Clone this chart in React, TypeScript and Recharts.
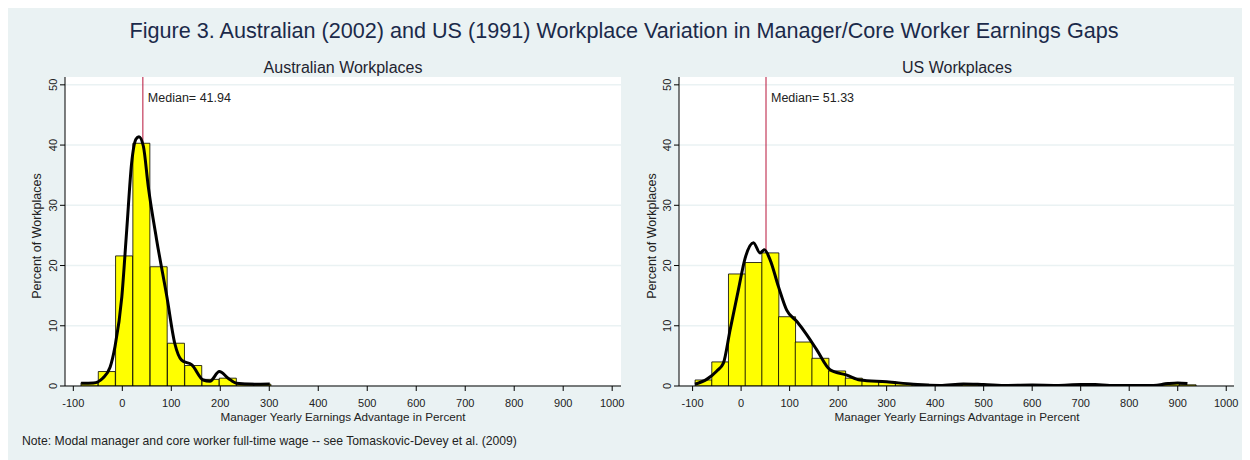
import React from "react";
import { ComposedChart, Bar, Line, XAxis, YAxis, CartesianGrid, ReferenceLine } from "recharts";

const FONT = '"Liberation Sans", Arial, Helvetica, sans-serif';

// shared axis ticks
const xTicks = [-100, 0, 100, 200, 300, 400, 500, 600, 700, 800, 900, 1000];
const yTicks = [0, 10, 20, 30, 40, 50];

// Australian workplaces: histogram bins (mid points) and percent
const ausBinMid = [-66.7, -31.4, 3.9, 39.2, 74.5, 109.8, 145.1, 180.4, 215.7, 251.0, 286.3];
const ausPct = [0.55, 2.4, 21.6, 40.3, 19.8, 7.1, 3.4, 1.1, 1.3, 0.45, 0.3];
// kernel density overlay
const ausDensX = [-84, -59, -40, -25, -15, -1, 9, 19, 28, 34, 43, 53, 70, 91, 107, 121, 142, 165, 179, 198, 216, 233, 267, 301];
const ausDensY = [0.45, 0.5, 1.3, 3.1, 6.5, 14.8, 25.9, 37, 41, 41.4, 39.8, 33.1, 24.3, 14.8, 7.1, 4.3, 3.5, 1.0, 0.8, 2.4, 1.3, 0.45, 0.3, 0.35];
const ausMedian = 41.94;

// US workplaces
const usBinMid = [-77.6, -43.2, -8.8, 25.6, 60.0, 94.4, 128.8, 163.2, 197.6, 232.0, 266.4, 300.8, 335.2, 369.6, 404.0, 438.4, 472.8, 507.2, 541.6, 576.0, 610.4, 644.8, 679.2, 713.6, 748.0, 782.4, 816.8, 851.2, 885.6, 920.0];
const usPct = [1.0, 4.0, 18.6, 20.5, 22.1, 11.5, 7.3, 4.6, 2.5, 1.3, 0.9, 0.65, 0.4, 0.3, 0.2, 0.15, 0.3, 0.25, 0.15, 0.1, 0.15, 0.1, 0.1, 0.25, 0.15, 0.1, 0.1, 0.15, 0.45, 0.2];
const usDensX = [-95, -71, -50, -36.5, -22.7, -5.5, 8.2, 25.4, 39, 48, 60, 77, 94, 115, 135.5, 156, 183.5, 218, 245, 300, 355, 410, 458, 500, 550, 600, 650, 700, 730, 760, 800, 850, 880, 900, 920];
const usDensY = [0.3, 1.1, 2.5, 3.8, 9.3, 16, 21.2, 23.8, 22.1, 22.6, 20.9, 16.5, 12.6, 10.7, 8.5, 6.0, 2.7, 1.8, 1.0, 0.7, 0.3, 0.1, 0.35, 0.25, 0.1, 0.15, 0.1, 0.25, 0.25, 0.1, 0.1, 0.1, 0.4, 0.5, 0.4];
const usMedian = 51.33;

const YTick = (props: any) => {
  const { x, y, payload } = props;
  return (
    <text x={x} y={y} transform={`rotate(-90 ${x} ${y})`} textAnchor="middle" fontSize={11} fill="#222" fontFamily={FONT}>
      {payload.value}
    </text>
  );
};

type PanelProps = {
  binMid: number[];
  pct: number[];
  densX: number[];
  densY: number[];
  median: number;
  domain: [number, number];
  width: number;
  margin: { top: number; right: number; bottom: number; left: number };
};

function Panel({ binMid, pct, densX, densY, median, domain, width, margin }: PanelProps) {
  const bins = binMid.map((m, i) => ({ mid: m, pct: pct[i] }));
  const dens = densX.map((x, i) => ({ x, d: densY[i] }));
  return (
    <ComposedChart width={width} height={430} data={bins} margin={margin} barCategoryGap={0} barGap={0}>
      <CartesianGrid vertical={false} stroke="#eaf2f3" strokeWidth={1.5} fill="#ffffff" horizontalValues={yTicks} />
      <XAxis
        xAxisId="bins"
        dataKey="mid"
        type="number"
        domain={domain}
        allowDataOverflow
        ticks={xTicks}
        interval={0}
        tickSize={5}
        tickMargin={8}
        stroke="#000"
        tick={{ fontSize: 11, fill: "#222", fontFamily: FONT }}
      />
      <XAxis xAxisId="dens" dataKey="x" type="number" domain={domain} allowDataOverflow hide />
      <YAxis
        type="number"
        domain={[0, 51.3]}
        allowDataOverflow
        ticks={yTicks}
        interval={0}
        width={30}
        tickSize={5}
        tickMargin={3}
        stroke="#000"
        tick={<YTick />}
      />
      <ReferenceLine
        xAxisId="bins"
        x={median}
        stroke="#b8143a"
        strokeWidth={1}
        zIndex={250}
        label={(p: any) => (
          <text x={p.viewBox.x + 5} y={p.viewBox.y + 25} fontSize={12.5} fill="#222" fontFamily={FONT}>
            {`Median= ${median}`}
          </text>
        )}
      />
      <Bar xAxisId="bins" dataKey="pct" fill="#ffff00" stroke="#000" strokeWidth={0.8} isAnimationActive={false} />
      <Line
        xAxisId="dens"
        data={dens}
        dataKey="d"
        type="monotone"
        stroke="#000"
        strokeWidth={3}
        dot={false}
        activeDot={false}
        isAnimationActive={false}
      />
    </ComposedChart>
  );
}

const txt = (extra: React.CSSProperties): React.CSSProperties => ({
  position: "absolute",
  fontFamily: FONT,
  whiteSpace: "nowrap",
  lineHeight: 1,
  ...extra,
});

export default function App() {
  return (
    <div style={{ position: "relative", width: 1242, height: 452, background: "#eaf2f3", overflow: "hidden" }}>
      <div style={txt({ left: 616, top: 12, transform: "translateX(-50%)", fontSize: 21.6, color: "#1b2a4a" })}>
        Figure 3. Australian (2002) and US (1991) Workplace Variation in Manager/Core Worker Earnings Gaps
      </div>
      <div style={txt({ left: 335, top: 52, transform: "translateX(-50%)", fontSize: 16, color: "#1e2430" })}>
        Australian Workplaces
      </div>
      <div style={txt({ left: 949, top: 52, transform: "translateX(-50%)", fontSize: 16, color: "#1e2430" })}>
        US Workplaces
      </div>

      <div style={{ position: "absolute", left: 0, top: 0 }}>
        <Panel
          binMid={ausBinMid}
          pct={ausPct}
          densX={ausDensX}
          densY={ausDensY}
          median={ausMedian}
          domain={[-117, 1018]}
          width={620}
          margin={{ top: 69, right: 7, bottom: 22, left: 27 }}
        />
      </div>
      <div style={{ position: "absolute", left: 620, top: 0 }}>
        <Panel
          binMid={usBinMid}
          pct={usPct}
          densX={usDensX}
          densY={usDensY}
          median={usMedian}
          domain={[-128, 1016]}
          width={622}
          margin={{ top: 69, right: 16, bottom: 22, left: 21 }}
        />
      </div>

      <div style={txt({ left: 29, top: 228, fontSize: 12.5, color: "#222", transform: "translate(-50%, -50%) rotate(-90deg)" })}>
        Percent of Workplaces
      </div>
      <div style={txt({ left: 644, top: 228, fontSize: 12.5, color: "#222", transform: "translate(-50%, -50%) rotate(-90deg)" })}>
        Percent of Workplaces
      </div>
      <div style={txt({ left: 335, top: 403, transform: "translateX(-50%)", fontSize: 11.7, color: "#222" })}>
        Manager Yearly Earnings Advantage in Percent
      </div>
      <div style={txt({ left: 949, top: 403, transform: "translateX(-50%)", fontSize: 11.7, color: "#222" })}>
        Manager Yearly Earnings Advantage in Percent
      </div>
      <div style={txt({ left: 14, top: 427, fontSize: 12.2, color: "#222" })}>
        Note: Modal manager and core worker full-time wage -- see Tomaskovic-Devey et al. (2009)
      </div>
    </div>
  );
}
